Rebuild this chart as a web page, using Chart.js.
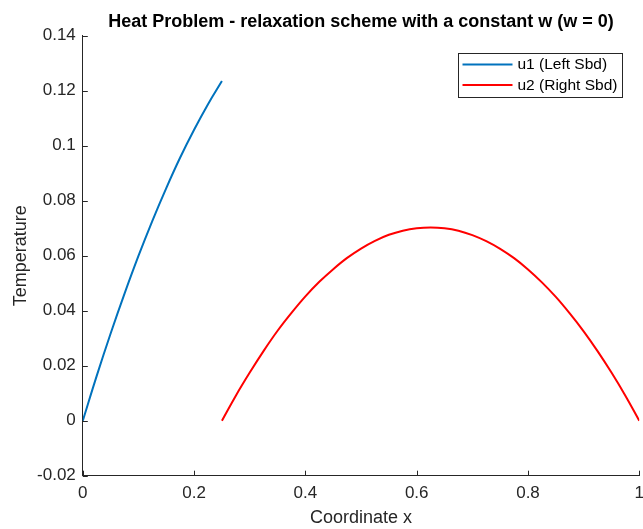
<!DOCTYPE html>
<html>
<head>
<meta charset="utf-8">
<script src="https://cdn.jsdelivr.net/npm/chart.js@4.4.1/dist/chart.umd.min.js"></script>
<style>
  html, body { margin: 0; padding: 0; background: #ffffff; }
  #wrap { width: 643px; height: 529px; position: relative; }
</style>
</head>
<body>
<div id="wrap"><canvas id="c" width="643" height="529"></canvas></div>
<script>
// ---- data ----
const chartTitle = "Heat Problem - relaxation scheme with a constant w (w = 0)";
const xAxisTitle = "Coordinate x";
const yAxisTitle = "Temperature";

const u1Label = "u1 (Left Sbd)";
const u1X = [0, 0.025, 0.05, 0.075, 0.1, 0.125, 0.15, 0.175, 0.2, 0.225, 0.25];
const u1Y = [0, 0.0163, 0.0317, 0.0462, 0.0599, 0.0727, 0.0846, 0.0957, 0.1058, 0.1151, 0.1235];

const u2Label = "u2 (Right Sbd)";
const u2X = [0.25, 0.275, 0.30, 0.325, 0.35, 0.375, 0.40, 0.425, 0.45, 0.475, 0.50, 0.525, 0.55, 0.575, 0.60, 0.625,
             0.65, 0.675, 0.70, 0.725, 0.75, 0.775, 0.80, 0.825, 0.85, 0.875, 0.90, 0.925, 0.95, 0.975, 1.00];
const u2Y = [0, 0.0091, 0.0175, 0.0254, 0.0327, 0.0392, 0.0452, 0.0505, 0.0551, 0.0592, 0.0626, 0.0654, 0.0676, 0.0691, 0.0700, 0.0703,
             0.0700, 0.0691, 0.0675, 0.0653, 0.0625, 0.0591, 0.0550, 0.0503, 0.0450, 0.0390, 0.0325, 0.0253, 0.0175, 0.0091, 0];

const xTickValues = [0, 0.2, 0.4, 0.6, 0.8, 1];
const xTickLabels = ["0", "0.2", "0.4", "0.6", "0.8", "1"];
const yTickValues = [-0.02, 0, 0.02, 0.04, 0.06, 0.08, 0.1, 0.12, 0.14];
const yTickLabels = ["-0.02", "0", "0.02", "0.04", "0.06", "0.08", "0.1", "0.12", "0.14"];

// ---- styling ----
const AXIS_COLOR = "#262626";
const FONT = "'Liberation Sans', Arial, Helvetica, sans-serif";

function toPoints(xs, ys) { return xs.map((x, i) => ({ x: x, y: ys[i] })); }

function labelFor(values, labels, v) {
  for (let i = 0; i < values.length; i++) {
    if (Math.abs(values[i] - v) < 1e-9) return labels[i];
  }
  return "";
}

// title over the plot area, inward tick marks, in-plot legend
const matlabDecor = {
  id: "matlabDecor",
  afterDraw(chart) {
    const ctx = chart.ctx;
    const xs = chart.scales.x, ys = chart.scales.y;
    const area = chart.chartArea;
    ctx.save();

    // title centred on the axes
    ctx.fillStyle = "#000000";
    ctx.font = "bold 18px " + FONT;
    ctx.textAlign = "center";
    ctx.textBaseline = "middle";
    ctx.fillText(chartTitle, (area.left + area.right) / 2, 22);

    ctx.strokeStyle = AXIS_COLOR;
    ctx.lineWidth = 1;
    ctx.beginPath();
    xTickValues.forEach(v => {
      const px = Math.round(xs.getPixelForValue(v)) + 0.5;
      ctx.moveTo(px, area.bottom);
      ctx.lineTo(px, area.bottom - 5);
    });
    yTickValues.forEach(v => {
      const py = Math.round(ys.getPixelForValue(v)) + 0.5;
      ctx.moveTo(area.left, py);
      ctx.lineTo(area.left + 5, py);
    });
    ctx.stroke();

    // legend box
    const bx = 458.5, by = 53.5, bw = 164, bh = 44;
    ctx.fillStyle = "#ffffff";
    ctx.fillRect(bx, by, bw, bh);
    ctx.strokeStyle = "#262626";
    ctx.lineWidth = 1;
    ctx.strokeRect(bx, by, bw, bh);
    ctx.font = "15.5px " + FONT;
    ctx.textBaseline = "middle";
    ctx.textAlign = "left";
    chart.data.datasets.forEach((ds, i) => {
      const ly = by + 11 + i * 20.5;
      ctx.strokeStyle = ds.borderColor;
      ctx.lineWidth = 2;
      ctx.beginPath();
      ctx.moveTo(bx + 4, ly);
      ctx.lineTo(bx + 54, ly);
      ctx.stroke();
      ctx.fillStyle = "#000000";
      ctx.fillText(ds.label, bx + 59, ly + 0.5);
    });
    ctx.restore();
  }
};

new Chart(document.getElementById("c"), {
  type: "line",
  data: {
    datasets: [
      { label: u1Label, data: toPoints(u1X, u1Y), borderColor: "#0072BD", borderWidth: 2,
        pointRadius: 0, fill: false, tension: 0.4 },
      { label: u2Label, data: toPoints(u2X, u2Y), borderColor: "#FF0000", borderWidth: 2,
        pointRadius: 0, fill: false, tension: 0.4 }
    ]
  },
  options: {
    responsive: false,
    animation: false,
    devicePixelRatio: 1,
    layout: { padding: { left: 0, right: 3.7, top: 35.7, bottom: 0 } },
    plugins: {
      legend: { display: false },
      tooltip: { enabled: false },
      title: { display: false }
    },
    scales: {
      x: {
        type: "linear",
        min: 0, max: 1,
        afterBuildTicks(scale) { scale.ticks = xTickValues.map(v => ({ value: v })); },
        afterFit(scale) { scale.height = 53.3; scale.paddingRight = 0; scale.paddingLeft = 0; },
        ticks: {
          color: AXIS_COLOR,
          font: { family: FONT, size: 17 },
          padding: 7,
          maxRotation: 0,
          autoSkip: false,
          callback: (v) => labelFor(xTickValues, xTickLabels, v)
        },
        grid: { display: false, drawTicks: false },
        border: { display: true, color: AXIS_COLOR, width: 1 },
        title: {
          display: true, text: xAxisTitle, color: AXIS_COLOR,
          font: { family: FONT, size: 18 }, padding: { top: 0, bottom: 0 }
        }
      },
      y: {
        type: "linear",
        min: -0.02, max: 0.14,
        afterBuildTicks(scale) { scale.ticks = yTickValues.map(v => ({ value: v })); },
        afterFit(scale) { scale.width = 82.8; scale.paddingTop = 0; scale.paddingBottom = 0; },
        ticks: {
          color: AXIS_COLOR,
          font: { family: FONT, size: 17 },
          padding: 7,
          autoSkip: false,
          callback: (v) => labelFor(yTickValues, yTickLabels, v)
        },
        grid: { display: false, drawTicks: false },
        border: { display: true, color: AXIS_COLOR, width: 1 },
        title: {
          display: true, text: yAxisTitle, color: AXIS_COLOR,
          font: { family: FONT, size: 18 }, padding: { top: 10, bottom: 0 }
        }
      }
    }
  },
  plugins: [matlabDecor]
});
</script>
</body>
</html>
